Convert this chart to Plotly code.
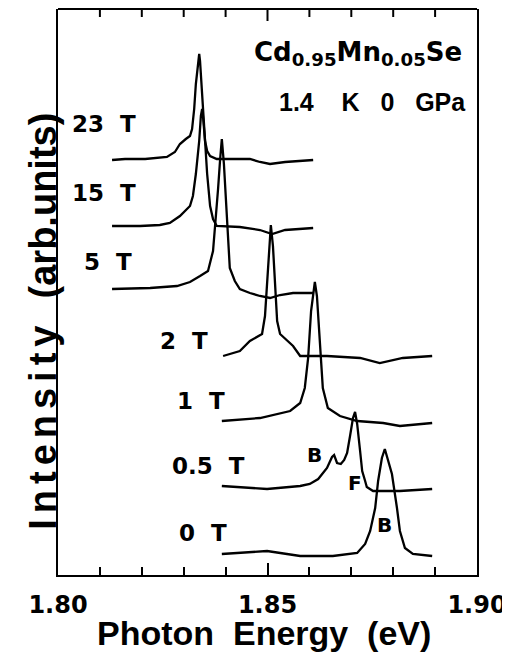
import plotly.graph_objects as go

# ---- data (photon energy in eV, PL intensity in arb. units relative to each trace's baseline)
fields = ["23 T", "15 T", "5 T", "2 T", "1 T", "0.5 T", "0 T"]
offsets = [416, 349, 286, 219, 154, 89, 21]

e_23 = [1.8129, 1.8160, 1.8208, 1.8243, 1.8260, 1.8279, 1.8291, 1.8305, 1.8315, 1.8320, 1.8325, 1.8329,
        1.8334, 1.8337, 1.8339, 1.8344, 1.8346, 1.8351, 1.8356, 1.8363, 1.8379, 1.8410, 1.8458, 1.8482,
        1.8506, 1.8542, 1.8578, 1.8609]
i_23 = [-1, 0, 0, 1, 2, 7, 15, 20, 23, 30, 50, 75, 98, 105, 98, 68, 50, 18, 8, 3, 0, 0, 0, -3, -5, -3, -2, -1]

e_15 = [1.8129, 1.8196, 1.8243, 1.8267, 1.8291, 1.8315, 1.8322, 1.8329, 1.8337, 1.8341, 1.8344, 1.8346,
        1.8351, 1.8356, 1.8363, 1.8370, 1.8379, 1.8434, 1.8482, 1.8511, 1.8542, 1.8578, 1.8609]
i_15 = [0, 0, 1, 3, 10, 20, 30, 52, 85, 110, 117, 110, 85, 52, 20, 7, 0, -1, -4, -8, -4, -3, -2]

e_5 = [1.8129, 1.8220, 1.8284, 1.8315, 1.8339, 1.8358, 1.8370, 1.8377, 1.8382, 1.8387, 1.8391, 1.8396,
       1.8399, 1.8403, 1.8406, 1.8410, 1.8422, 1.8434, 1.8458, 1.8482, 1.8506, 1.8530, 1.8561, 1.8609]
i_5 = [0, 1, 3, 7, 13, 18, 38, 70, 100, 130, 150, 125, 100, 70, 45, 21, 8, 0, -4, -7, -9, -6, -4, -4]

e_2 = [1.8394, 1.8434, 1.8458, 1.8487, 1.8494, 1.8499, 1.8504, 1.8508, 1.8513, 1.8518, 1.8523, 1.8530,
       1.8561, 1.8578, 1.8642, 1.8721, 1.8768, 1.8823, 1.8893]
i_2 = [0, 5, 15, 22, 40, 70, 110, 131, 110, 70, 35, 22, 10, 0, 0, -2, -7, -2, 0]

e_1 = [1.8391, 1.8482, 1.8554, 1.8578, 1.8589, 1.8597, 1.8604, 1.8609, 1.8613, 1.8618, 1.8623, 1.8628,
       1.8632, 1.8644, 1.8673, 1.8714, 1.8776, 1.8816, 1.8893]
i_1 = [0, 3, 10, 18, 33, 63, 110, 130, 139, 125, 90, 55, 33, 13, 5, 0, -2, -5, -2]

e_05 = [1.8391, 1.8499, 1.8578, 1.8601, 1.8621, 1.8642, 1.8654, 1.8659, 1.8666, 1.8675, 1.8683, 1.8690,
        1.8697, 1.8704, 1.8709, 1.8714, 1.8721, 1.8726, 1.8733, 1.8737, 1.8752, 1.8816, 1.8893]
i_05 = [0, -3, 0, 2, 7, 18, 29, 31, 23, 22, 26, 33, 50, 68, 74, 62, 35, 15, 5, -1, -5, -5, -3]

e_0 = [1.8391, 1.8499, 1.8578, 1.8656, 1.8714, 1.8733, 1.8745, 1.8757, 1.8764, 1.8773, 1.8780, 1.8788,
       1.8797, 1.8809, 1.8816, 1.8828, 1.8847, 1.8893]
i_0 = [0, 3, -2, -2, 1, 10, 23, 46, 73, 96, 105, 93, 80, 46, 23, 6, 0, -2]

energies = [e_23, e_15, e_5, e_2, e_1, e_05, e_0]
intensities = [i_23, i_15, i_5, i_2, i_1, i_05, i_0]

# label anchor positions (energy, intensity-axis value)
label_x = [1.8029, 1.8029, 1.8057, 1.8239, 1.8279, 1.8267, 1.8284]
label_y = [451, 382, 313, 234, 174, 109, 42]

peak_marks = ["B", "F", "B"]
peak_mark_x = [1.8613, 1.8709, 1.8780]
peak_mark_y = [120, 92, 50]

x_ticks = [1.80, 1.85, 1.90]
x_ticktext = ["1.80", "1.85", "1.90"]
minor_step = 0.01

fig = go.Figure()
for e, inten, off in zip(energies, intensities, offsets):
    fig.add_trace(go.Scatter(x=e, y=[v + off for v in inten], mode="lines",
                             line=dict(color="black", width=2.3), hoverinfo="skip"))

NB = "\u00a0"
lab_font = dict(family="DejaVu Sans", size=23, color="black", weight="bold")
for name, lx, ly in zip(fields, label_x, label_y):
    num, unit = name.split(" ")
    fig.add_annotation(x=lx, y=ly, text=num + NB * 2 + unit, showarrow=False,
                       xanchor="left", yanchor="middle", font=lab_font)

for t, mx, my in zip(peak_marks, peak_mark_x, peak_mark_y):
    fig.add_annotation(x=mx, y=my, text=t, showarrow=False, xanchor="center", yanchor="middle",
                       font=dict(family="DejaVu Sans", size=20, color="black", weight="bold"))

fig.add_annotation(x=1.8463, y=522, text="Cd<sub>0.95</sub>Mn<sub>0.05</sub>Se", showarrow=False,
                   xanchor="left", yanchor="middle",
                   font=dict(family="DejaVu Sans", size=26, color="black", weight="bold"))
fig.add_annotation(x=1.8523, y=473, text="1.4" + NB * 4 + "K" + NB * 3 + "0" + NB * 3 + "GPa", showarrow=False,
                   xanchor="left", yanchor="middle",
                   font=dict(family="Liberation Sans", size=25, color="black", weight="bold"))

# axis titles
fig.add_annotation(xref="paper", yref="paper", x=0.4917, y=-0.1025,
                   text="Photon" + NB * 2 + "Energy" + NB * 2 + "(eV)",
                   showarrow=False, xanchor="center", yanchor="middle",
                   font=dict(family="Liberation Sans", size=34, color="black", weight="bold"))
fig.add_annotation(xref="paper", yref="paper", x=-0.036, y=0.449,
                   text='<span style="letter-spacing:6px">Intensity</span>' + NB * 2 + "(arb.units)",
                   showarrow=False, xanchor="center", yanchor="middle", textangle=-90,
                   font=dict(family="Liberation Sans", size=38, color="black", weight="bold"))

# top frame edge with inward ticks (mirroring the bottom axis)
fig.add_shape(type="line", xref="paper", yref="paper", x0=0, x1=1, y0=1, y1=1,
              line=dict(color="black", width=2), layer="above")
n_minor = int(round((x_ticks[-1] - x_ticks[0]) / minor_step))
for k in range(1, n_minor):
    tv = round(x_ticks[0] + k * minor_step, 2)
    length = 12 if tv in x_ticks else 8
    fig.add_shape(type="line", xref="x", yref="paper", x0=tv, x1=tv, y0=1, y1=1 - length / 566,
                  line=dict(color="black", width=2), layer="above")

fig.update_layout(
    xaxis=dict(range=[1.80, 1.90], tickvals=x_ticks, ticktext=x_ticktext,
               ticks="inside", ticklen=12, tickwidth=2, tickcolor="black",
               minor=dict(dtick=minor_step, tick0=1.80, ticks="inside", ticklen=8, tickwidth=2, tickcolor="black"),
               showline=True, linewidth=2, linecolor="black", mirror=False,
               showgrid=False, zeroline=False, ticklabelstandoff=7,
               tickfont=dict(family="DejaVu Sans", size=24, color="black", weight="bold")),
    yaxis=dict(range=[0, 566], showticklabels=False, ticks="", showline=True, linewidth=2,
               linecolor="black", mirror=True, showgrid=False, zeroline=False),
)

# page body adds an 8px offset; margins compensate so the frame sits where the reference has it
fig.update_layout(width=510, height=653, margin=dict(l=50, r=41, t=1, b=86),
                  plot_bgcolor="white", paper_bgcolor="white", showlegend=False)

fig.write_html("out.html")
